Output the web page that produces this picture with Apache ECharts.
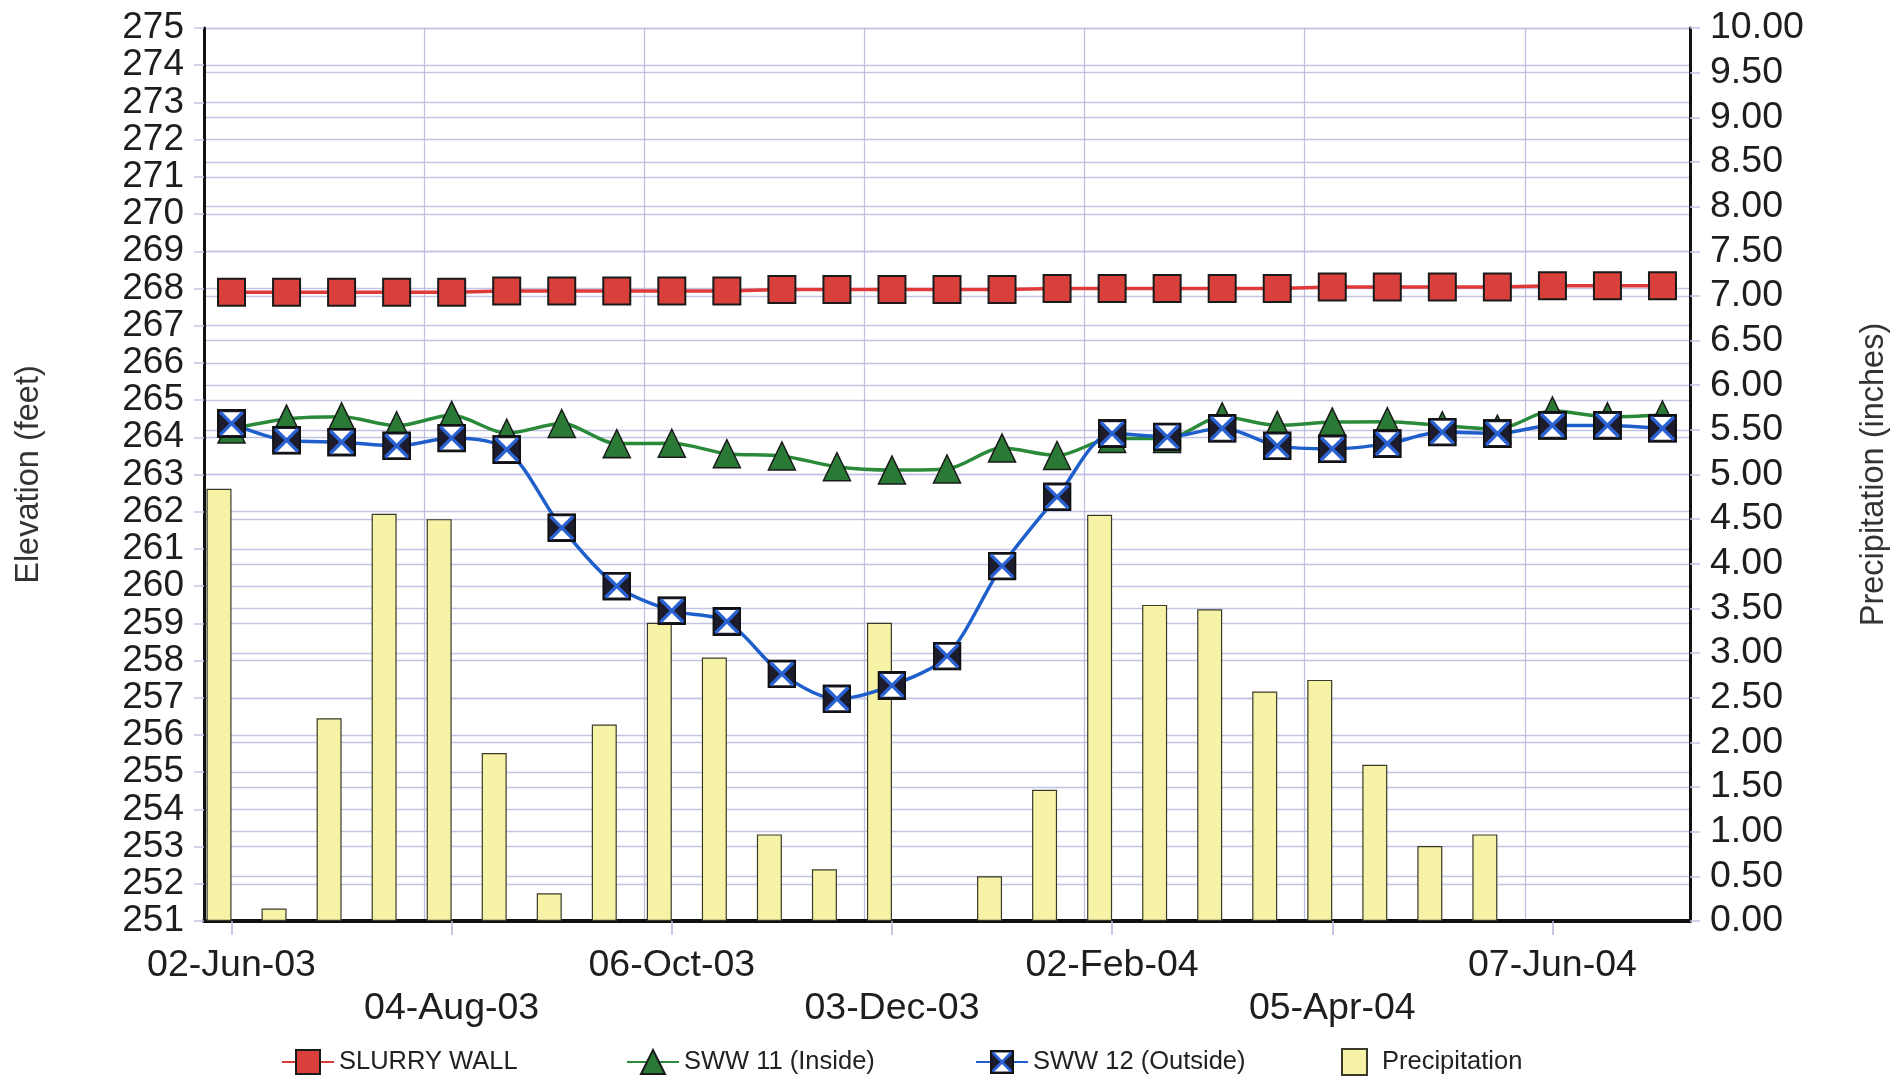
<!DOCTYPE html>
<html>
<head>
<meta charset="utf-8">
<title>Slurry wall elevations</title>
<script src="https://cdn.jsdelivr.net/npm/echarts@6/dist/echarts.min.js"></script>
<style>
  html, body { margin: 0; padding: 0; background: #fff; }
  #chart { width: 1900px; height: 1078px; }
</style>
</head>
<body>
<div id="chart"></div>
<script>
// x categories, only every 4th reading is labelled on the original
const xLabels = [
  '02-Jun-03', '', '', '', '04-Aug-03', '', '', '', '06-Oct-03', '', '', '', '03-Dec-03', '', '',
  '', '02-Feb-04', '', '', '', '05-Apr-04', '', '', '', '07-Jun-04', '', ''
]
const slurryWall = [
  267.9, 267.9, 267.9, 267.9, 267.9, 267.93, 267.93, 267.93, 267.93, 267.93, 267.97, 267.97, 267.97, 267.97,
  267.97, 268.0, 268.0, 268.0, 268.0, 268.0, 268.04, 268.04, 268.04, 268.04, 268.07, 268.07, 268.07
]
const sww11 = [
  264.22, 264.49, 264.55, 264.31, 264.59, 264.11, 264.37, 263.83, 263.84, 263.56, 263.5, 263.21, 263.12, 263.15,
  263.71, 263.51, 263.97, 263.97, 264.55, 264.32, 264.41, 264.42, 264.31, 264.22, 264.71, 264.55, 264.6
]
const sww12 = [
  264.37, 263.92, 263.87, 263.77, 263.98, 263.67, 261.57, 260.0, 259.34, 259.05, 257.64, 256.97, 257.33, 258.12,
  260.54, 262.4, 264.1, 264.01, 264.24, 263.77, 263.69, 263.83, 264.14, 264.1, 264.32, 264.32, 264.24
]
const precipitation = [
  4.84, 0.14, 2.27, 4.56, 4.5, 1.88, 0.31, 2.2, 3.34, 2.95, 0.97, 0.58, 3.34, null,
  0.5, 1.47, 4.55, 3.54, 3.49, 2.57, 2.7, 1.75, 0.84, 0.97, null, null, null
]

const FONT = 'Liberation Sans, Arial, sans-serif'
const GRID_COLOR = '#c3c3e6'

// square with an X, white top/bottom wedges
const xBoxSvg = "<svg xmlns='http://www.w3.org/2000/svg' width='28' height='28' viewBox='0 0 28 28'>" +
  "<rect x='1' y='1' width='26' height='26' fill='#1c1c2c' stroke='#111' stroke-width='2'/>" +
  "<polygon points='4,3 24,3 14,13' fill='#fff'/><polygon points='4,25 24,25 14,15' fill='#fff'/>" +
  "<path d='M3 3 L25 25 M25 3 L3 25' stroke='#2a62d4' stroke-width='3.2'/></svg>"
const xBoxSymbol = 'image://data:image/svg+xml;charset=utf-8,' + encodeURIComponent(xBoxSvg)

const legendText = { color: '#222', fontSize: 25.5, fontFamily: FONT }
function lineLegend(name, left) {
  return {
    data: [name],
    left: left,
    top: 1049,
    padding: 0,
    itemWidth: 52,
    itemHeight: 30,
    selectedMode: false,
    textStyle: legendText
  }
}

const chart = echarts.init(document.getElementById('chart'), null, { renderer: 'canvas' })
chart.setOption({
  animation: false,
  backgroundColor: '#fff',
  grid: {
    left: 204,
    right: 210,
    top: 28,
    bottom: 157,
    containLabel: false,
    outerBoundsMode: 'none'
  },
  legend: [
    lineLegend('SLURRY WALL', 281),
    lineLegend('SWW 11 (Inside)', 626),
    lineLegend('SWW 12 (Outside)', 975),
    {
      data: ['Precipitation'],
      left: 1341,
      top: 1048,
      padding: 0,
      itemWidth: 25,
      itemHeight: 26,
      icon: 'rect',
      selectedMode: false,
      textStyle: Object.assign({ padding: [0, 0, 0, 10] }, legendText)
    }
  ],
  xAxis: {
    type: 'category',
    data: xLabels,
    boundaryGap: true,
    axisLine: { lineStyle: { color: '#111', width: 4 } },
    axisTick: {
      show: true,
      interval: 3,
      alignWithLabel: true,
      length: 14,
      lineStyle: { color: '#b6b6dc', width: 1.5 }
    },
    axisLabel: {
      interval: 3,
      hideOverlap: false,
      margin: 23,
      fontSize: 37.5,
      lineHeight: 43,
      color: '#1e1e1e',
      fontFamily: FONT,
      formatter: function (value, index) {
        return (index / 4) % 2 === 1 ? '\n' + value : value
      }
    },
    splitLine: {
      show: true,
      interval: 3,
      lineStyle: { color: '#bdbde2', width: 1.2 }
    }
  },
  yAxis: [{
    type: 'value',
    position: 'left',
    min: 251,
    max: 275,
    interval: 1,
    name: 'Elevation (feet)',
    nameLocation: 'middle',
    nameGap: 158,
    nameTextStyle: { fontSize: 32.5, color: '#333', fontFamily: FONT },
    axisLine: { show: true, lineStyle: { color: '#111', width: 3 } },
    axisTick: { show: true, length: 10, lineStyle: { color: GRID_COLOR, width: 1.5 } },
    axisLabel: { fontSize: 37, margin: 20, color: '#1e1e1e', fontFamily: FONT, hideOverlap: false },
    splitLine: { show: true, lineStyle: { color: GRID_COLOR, width: 1.3 } }
  }, {
    type: 'value',
    position: 'right',
    min: 0,
    max: 10,
    interval: 0.5,
    name: 'Precipitation (inches)',
    nameLocation: 'middle',
    nameGap: 168,
    nameTextStyle: { fontSize: 32.5, color: '#333', fontFamily: FONT },
    axisLine: { show: true, lineStyle: { color: '#111', width: 3 } },
    axisTick: { show: true, length: 10, lineStyle: { color: GRID_COLOR, width: 1.5 } },
    axisLabel: {
      fontSize: 37.5,
      margin: 20,
      color: '#1e1e1e',
      fontFamily: FONT,
      hideOverlap: false,
      formatter: function (v) { return v.toFixed(2) }
    },
    splitLine: { show: true, lineStyle: { color: GRID_COLOR, width: 1.3 } }
  }],
  series: [{
    name: 'Precipitation',
    type: 'bar',
    yAxisIndex: 1,
    data: precipitation,
    barWidth: 25,
    barGap: '0%',
    itemStyle: { color: '#f7f3a6', borderColor: '#3a3a2a', borderWidth: 1.2 },
    z: 1
  }, {
    // empty slot beside each bar, like the original's clustered layout
    name: 'spacer',
    type: 'bar',
    yAxisIndex: 1,
    data: [],
    barWidth: 25,
    barGap: '0%',
    z: 1
  }, {
    name: 'SLURRY WALL',
    type: 'line',
    data: slurryWall,
    symbol: 'rect',
    symbolSize: 27,
    itemStyle: { color: '#d9403c', borderColor: '#1a1a1a', borderWidth: 2 },
    lineStyle: { color: '#e0393a', width: 3.5 },
    z: 3
  }, {
    name: 'SWW 11 (Inside)',
    type: 'line',
    data: sww11,
    smooth: 0.3,
    symbol: 'triangle',
    symbolSize: [27, 28],
    itemStyle: { color: '#2a7a36', borderColor: '#1a1a1a', borderWidth: 1.5 },
    lineStyle: { color: '#2b8a3a', width: 3.5 },
    z: 4
  }, {
    name: 'SWW 12 (Outside)',
    type: 'line',
    data: sww12,
    smooth: 0.3,
    symbol: xBoxSymbol,
    symbolSize: 29,
    itemStyle: { color: '#2a62d4' },
    lineStyle: { color: '#1f5fcc', width: 3.5 },
    z: 5
  }]
})
</script>
</body>
</html>
